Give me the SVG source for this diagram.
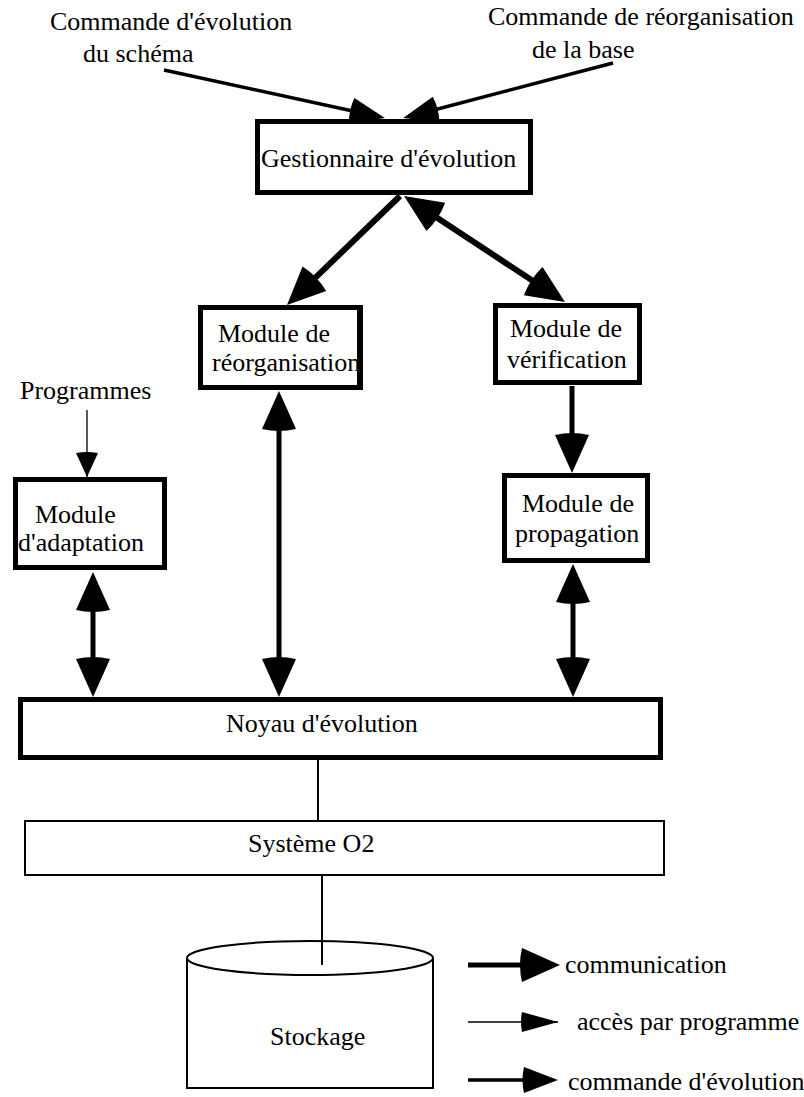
<svg xmlns="http://www.w3.org/2000/svg" width="804" height="1097" viewBox="0 0 804 1097">
<style>
text{font-family:"Liberation Serif","Times New Roman",serif;font-size:26px;fill:#000}
.box{fill:#fff;stroke:#000;stroke-width:5}
.thin{fill:#fff;stroke:#000;stroke-width:2}
.comm{stroke:#000;stroke-width:5;fill:none}
.diag{stroke:#000;stroke-width:6;fill:none}
.cmd{stroke:#000;stroke-width:3.5;fill:none}
.acc{stroke:#000;stroke-width:1.3;fill:none}
.plain{stroke:#000;stroke-width:2;fill:none}
</style>
<defs>
<marker id="mComm" viewBox="-4 0 42 34" markerWidth="42" markerHeight="34" refX="28" refY="17" orient="auto-start-reverse" markerUnits="userSpaceOnUse">
<path d="M38,17 L0,0 Q-4,17 0,34 Z" fill="#000"/>
</marker>
<marker id="mCmd" viewBox="-3 0 37 26" markerWidth="37" markerHeight="26" refX="28" refY="13" orient="auto" markerUnits="userSpaceOnUse">
<path d="M34,13 L0,0 Q-3,13 0,26 Z" fill="#000"/>
</marker>
<marker id="mAcc" viewBox="-2 0 26 22" markerWidth="26" markerHeight="22" refX="24" refY="11" orient="auto" markerUnits="userSpaceOnUse">
<path d="M24,11 L0,0 Q-2,11 0,22 Z" fill="#000"/>
</marker>
<marker id="mAcc2" viewBox="-2 0 38 20" markerWidth="38" markerHeight="20" refX="36" refY="10" orient="auto" markerUnits="userSpaceOnUse">
<path d="M36,10 L0,0 Q-2,10 0,20 Z" fill="#000"/>
</marker>
</defs>
<rect x="0" y="0" width="804" height="1097" fill="#fff"/>

<g id="inputs">
<text x="50" y="30">Commande d'évolution</text>
<text x="83" y="62">du schéma</text>
<text x="488" y="25">Commande de réorganisation</text>
<text x="532" y="58">de la base</text>
<text x="20" y="399">Programmes</text>
</g>

<g id="connectors">
<line class="cmd" x1="164" y1="70" x2="379" y2="116.7" marker-end="url(#mCmd)"/>
<line class="cmd" x1="613" y1="63" x2="409" y2="116.5" marker-end="url(#mCmd)"/>
<line class="diag" x1="400" y1="196" x2="294.2" y2="298.1" marker-end="url(#mComm)"/>
<line class="diag" x1="412.4" y1="201.5" x2="556.6" y2="296.5" marker-start="url(#mComm)" marker-end="url(#mComm)"/>
<line class="comm" x1="93" y1="582" x2="93" y2="687" marker-start="url(#mComm)" marker-end="url(#mComm)"/>
<line class="comm" x1="279" y1="401" x2="279" y2="687" marker-start="url(#mComm)" marker-end="url(#mComm)"/>
<line class="comm" x1="573" y1="574" x2="573" y2="687" marker-start="url(#mComm)" marker-end="url(#mComm)"/>
<line class="comm" x1="572" y1="386" x2="572" y2="463" marker-end="url(#mComm)"/>
<line class="acc" x1="87" y1="410" x2="87" y2="477" marker-end="url(#mAcc)"/>
<line class="plain" x1="318" y1="760" x2="318" y2="820"/>
<line class="plain" x1="322" y1="876" x2="322" y2="965"/>
</g>

<g id="gestionnaire">
<rect class="box" x="257.5" y="121.5" width="273" height="71"/>
<text x="261" y="167">Gestionnaire d'évolution</text>
</g>

<g id="reorganisation">
<rect class="box" x="200.5" y="307.5" width="159" height="80"/>
<text x="218" y="342">Module de</text>
<text x="212" y="371">réorganisation</text>
<rect x="357" y="305" width="6" height="85" fill="#000"/>
</g>

<g id="verification">
<rect class="box" x="495.5" y="305.5" width="144" height="77"/>
<text x="510" y="337">Module de</text>
<text x="507" y="368">vérification</text>
</g>

<g id="adaptation">
<rect class="box" x="15.5" y="479.5" width="149" height="88"/>
<text x="35" y="523">Module</text>
<text x="18" y="551">d'adaptation</text>
</g>

<g id="propagation">
<rect class="box" x="504.5" y="475.5" width="143" height="85"/>
<text x="522" y="512">Module de</text>
<text x="515" y="542">propagation</text>
</g>

<g id="noyau">
<rect class="box" x="20.5" y="699.5" width="640" height="58"/>
<text x="226" y="732">Noyau d'évolution</text>
</g>

<g id="systeme">
<rect class="thin" x="25" y="821" width="639" height="54"/>
<text x="248" y="852">Système O2</text>
</g>

<g id="stockage">
<path class="thin" d="M187,958 V1088 H433 V958"/>
<ellipse cx="310" cy="958" rx="123" ry="17" fill="#fff" stroke="#000" stroke-width="2"/>
<line class="plain" x1="322" y1="941" x2="322" y2="965"/>
<text x="270" y="1045">Stockage</text>
</g>

<g id="legend">
<line class="comm" x1="468" y1="965" x2="550" y2="965" marker-end="url(#mComm)"/>
<text x="565" y="973">communication</text>
<line class="acc" x1="468" y1="1022" x2="558" y2="1022" marker-end="url(#mAcc2)"/>
<text x="577" y="1030">accès par programme</text>
<line class="cmd" x1="468" y1="1080" x2="552" y2="1080" marker-end="url(#mCmd)"/>
<text x="568" y="1090">commande d'évolution</text>
</g>
</svg>
